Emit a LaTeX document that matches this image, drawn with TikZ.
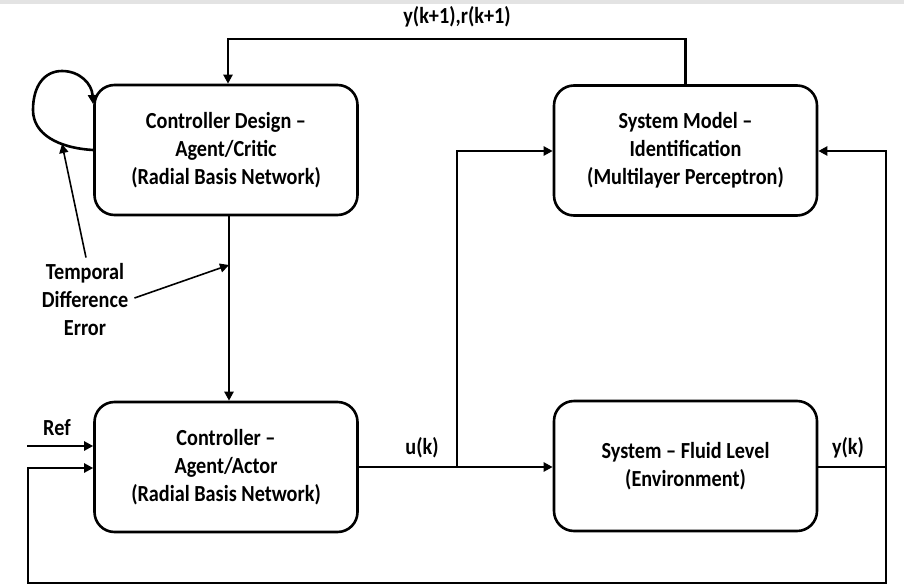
\documentclass[tikz,border=0pt]{standalone}
\usepackage{fontspec}
\setmainfont{Carlito}[FakeStretch=0.88]
\usetikzlibrary{arrows.meta}

\begin{document}
\begin{tikzpicture}[x=1pt,y=-1pt,
  line width=2.6pt,
  txt/.style={font=\bfseries\fontsize{23}{28}\selectfont, align=center, inner sep=2pt},
  blk/.style={txt, draw, rounded corners=20pt, minimum width=263pt, minimum height=130pt},
  arr/.style={-{Triangle[length=9pt,width=9pt]}},
  lbl/.style={txt}]
  % canvas and thin grey rule along the top edge
  \useasboundingbox (0,0) rectangle (904,586);
  \fill[gray!22] (0,0) rectangle (904,4);

  % blocks
  \node[blk] (cd)  at (226,150) {Controller Design --\\Agent/Critic\\(Radial Basis Network)};
  \node[blk] (sm)  at (685.5,150.5) {System Model --\\Identification\\(Multilayer Perceptron)};
  \node[blk] (ctl) at (226,467) {Controller --\\Agent/Actor\\(Radial Basis Network)};
  \node[blk] (sys) at (685.5,466) {System -- Fluid Level\\(Environment)};

  % helper points of the wiring
  \coordinate (tl) at (228,39);
  \coordinate (tdp) at (229,265);
  \coordinate (split) at (457,467);
  \coordinate (yk) at (886,467);
  \coordinate (bl) at (28,583);
  \coordinate (fbin) at (0,468);
  \coordinate (smin) at (0,151);
  \coordinate (ref) at (27,446);

  % model prediction back to the critic
  \draw[arr] (sm.north) |- (tl) -- (tl |- cd.north);
  \node[lbl] (ykp) at (457,17) {y(k+1),r(k+1)};

  % critic self loop
  \coordinate (lpa) at ([yshift=0pt]cd.west);
  \coordinate (lpb) at (93,104);
  \draw[arr] (lpa) .. controls (58,148) and (33,134) .. (33,110)
    .. controls (33,85) and (45,71) .. (62,71)
    .. controls (80,71) and (92,84) .. (lpb);

  % critic to actor, with the TD error
  \draw[arr] (cd.south -| tdp) -- (ctl.north -| tdp);
  \node[txt] (td) at (85,300) {Temporal\\Difference\\Error};
  \coordinate (loopp) at (62,144);
  \draw[line width=1.6pt, arr] ([xshift=3pt,yshift=2pt]td.east) -- (tdp);
  \draw[line width=1.6pt, arr] ([xshift=1pt,yshift=3pt]td.north) -- (loopp);

  % reference input
  \draw[arr] (ref) -- (ref -| ctl.west);
  \node[lbl] (reft) at (57,428) {Ref};

  % control signal
  \draw[arr] (ctl.east) -- (sys.west |- ctl.east);
  \draw[arr] (split) |- (sm.west |- smin);
  \node[lbl] (ukt) at (422,448) {u(k)};

  % plant output and feedback
  \draw (sys.east |- yk) -- (yk);
  \node[lbl] (ykt) at (848,448) {y(k)};
  \draw[arr] (yk) |- (sm.east |- smin);
  \draw[arr] (yk) |- (bl) |- (ctl.west |- fbin);
\end{tikzpicture}
\end{document}
